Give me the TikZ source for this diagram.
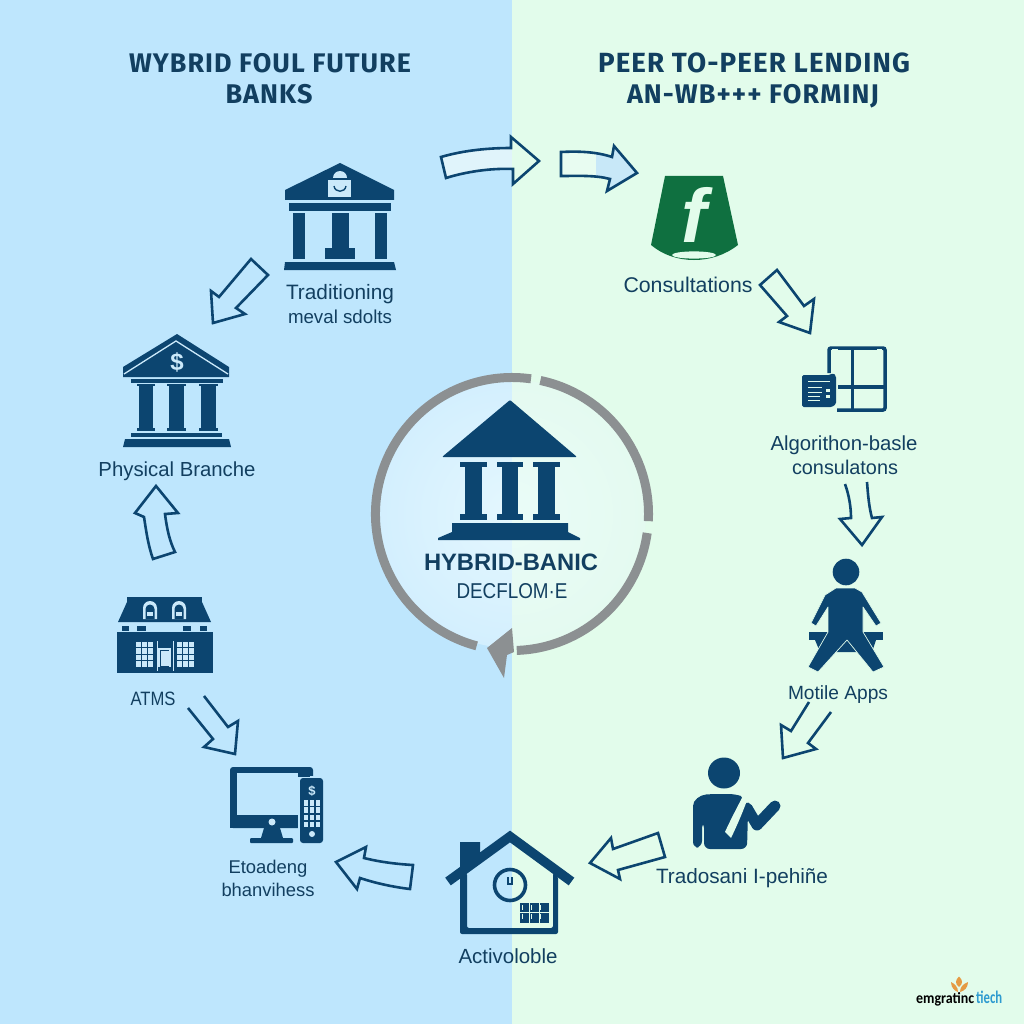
\documentclass[tikz,border=0pt]{standalone}
\usepackage{fontspec}
\usepackage{graphicx}
\setmainfont{Liberation Sans}
\newfontfamily\titlefont[LetterSpace=4]{Fira Sans}
\newfontfamily\logofont{Carlito}
\newfontfamily\ffont{Liberation Sans}
\definecolor{bgL}{HTML}{BEE6FD}
\definecolor{bgR}{HTML}{E2FCEB}
\definecolor{navy}{HTML}{0C4570}
\definecolor{ink}{HTML}{123F60}
\definecolor{ringc}{HTML}{8C9092}
\definecolor{leaf}{HTML}{0F7040}
\definecolor{ora}{HTML}{E59A43}
\definecolor{logob}{HTML}{2E9BD0}
\definecolor{E4F7FE}{HTML}{E4F7FE}
\definecolor{CFEDFD}{HTML}{D3EFFE}
\definecolor{EAFCF8}{HTML}{EAFCF8}
\definecolor{E4FAF0}{HTML}{E4FAF0}
\definecolor{E0F4FB}{HTML}{E0F4FB}
\definecolor{E8FCF1}{HTML}{E8FCF1}
\definecolor{C8E8F8}{HTML}{C8E8F8}
\definecolor{CBE9FA}{HTML}{CBE9FA}
\newcommand\fitw[2]{\resizebox{#1pt}{!}{#2}}
\newcommand\fitwh[3]{\resizebox{#1pt}{#2pt}{#3}}
\newcommand\ArrowA{(441,157) .. controls (465,150) and (490,148) .. (511,148) -- (511,137) -- (539,161) -- (513,184) -- (513,169) .. controls (490,168) and (465,172) .. (446,178) -- cycle}
\newcommand\ArrowB{(561,152) .. controls (580,151) and (597,152) .. (612,157) -- (614,146) -- (637,173) -- (607,191) -- (610,179) .. controls (595,175) and (578,176) .. (561,176) -- cycle}
\tikzset{
  lab/.style={anchor=base,inner sep=0pt,text=ink,font=\fontsize{20}{24}\selectfont},
  ttl/.style={anchor=base,inner sep=0pt,text=ink,font=\titlefont\bfseries\fontsize{26}{30}\selectfont},
  blockarrow/.style={draw=navy,line width=2.6pt,line join=miter,miter limit=6},
  ring/.style={draw=ringc,line width=9pt}
}
\begin{document}
\begin{tikzpicture}[x=1pt,y=-1pt]
\useasboundingbox (0,0) rectangle (1024,1024);
% backgrounds
\fill[bgL] (0,0) rectangle (512,1024);
\fill[bgR] (512,0) rectangle (1024,1024);
% ring interior
\begin{scope}
\clip (0,0) rectangle (512,1024);
\shade[inner color=E4F7FE,outer color=CFEDFD] (512,514) circle[radius=134];
\end{scope}
\begin{scope}
\clip (512,0) rectangle (1024,1024);
\shade[inner color=EAFCF8,outer color=E4FAF0] (512,514) circle[radius=134];
\end{scope}
% ring
\draw[ring] ([shift={(512,514)}]-78:136.5) arc[start angle=-78,end angle=3,radius=136.5];
\draw[ring] ([shift={(512,514)}]8:136.5) arc[start angle=8,end angle=88,radius=136.5];
\draw[ring] ([shift={(512,514)}]105:136.5) arc[start angle=105,end angle=278,radius=136.5];
\fill[ringc] (512,628) -- (487,648) -- (504,678) -- (507,655) -- (514,652) -- cycle;
% centre bank
\fill[navy,rounded corners=1pt] (510,400) -- (577,457) -- (442,457) -- cycle;
\foreach \xa/\xb in {465/482,502/518,538/555}{
  \fill[navy] (\xa,464) rectangle (\xb,518);
  \fill[navy] (\xa-5,462) rectangle (\xb+5,467);
  \fill[navy] (\xa-5,514) rectangle (\xb+5,520);
}
\fill[navy] (452,523) -- (568,523) -- (568,532) -- (580,538) -- (580,540) -- (438,540) -- (438,538) -- (452,532) -- cycle;
\node[anchor=base,inner sep=0pt,text=ink,font=\ffont\bfseries\fontsize{22}{26}\selectfont] (hub1) at (511,570) {\fitw{174}{HYBRID-BANIC}};
\node[lab] (hub2) at (512,598) {\fitwh{111}{15}{DECFLOM·E}};
% titles
\node[ttl] (tl1) at (270,73) {\fitw{282}{WYBRID FOUL FUTURE}};
\node[ttl] (tl2) at (269,104) {\fitw{87}{BANKS}};
\node[ttl] (tr1) at (754,73) {\fitw{312}{PEER TO-PEER LENDING}};
\node[ttl] (tr2) at (753,104) {\fitw{252}{AN-WB+++ FORMINJ}};
% arrows
\fill[E0F4FB] \ArrowA;
\begin{scope}\clip (512,0) rectangle (1024,1024); \fill[bgR] \ArrowA; \end{scope}
\draw[blockarrow] \ArrowA;
\fill[E8FCF1] \ArrowB;
\begin{scope}\clip (596,0) rectangle (1024,1024); \fill[C8E8F8] \ArrowB; \end{scope}
\draw[blockarrow] \ArrowB;
\draw[blockarrow] (251,259) -- (268,275) -- (236,308) -- (245,314) -- (213,323) -- (211,291) -- (219,297) -- cycle;
\draw[blockarrow] (156,486) -- (178,513) -- (165,514) .. controls (167,530) and (170,542) .. (175,552) -- (153,559) .. controls (148,545) and (146,530) .. (144,517) -- (135,513) -- cycle;
\draw[blockarrow] (204,696) -- (228,727) -- (238,721) -- (235,754) -- (204,747) -- (213,739) -- (188,708);
\draw[blockarrow] (413,865) -- (410,889) .. controls (393,887) and (375,883) .. (360,878) -- (357,889) -- (336,862) -- (366,847) -- (364,858) .. controls (380,862) and (396,864) .. (413,865) -- cycle;
\draw[blockarrow] (658,833) -- (665,857) -- (618,870) -- (620,879) -- (590,863) -- (611,838) -- (613,849) -- cycle;
\draw[blockarrow] (777,270) -- (804,306) -- (814,299) -- (810,333) -- (779,322) -- (787,316) -- (760,285) -- cycle;
\draw[blockarrow] (845,484) .. controls (849,495) and (851,507) .. (851,518) -- (840,519) -- (862,545) -- (882,517) -- (872,518) .. controls (869,507) and (868,495) .. (867,482);
\draw[blockarrow] (809,702) -- (791,731) -- (781,725) -- (783,758) -- (816,749) -- (808,743) -- (831,712);
% traditional bank
\fill[navy] (340,163) -- (394,190) -- (394,200) -- (285,200) -- (285,190) -- cycle;
\fill[CBE9FA] (328,180) rectangle (351,197);
\fill[CBE9FA] (333,178) arc[start angle=180,end angle=360,radius=7];
\draw[navy,line width=1.4pt] (334,186) .. controls (335,193) and (345,193) .. (346,186);
\fill[navy] (289,203) rectangle (391,211);
\fill[navy] (293,213) rectangle (305,259);
\fill[navy] (375,213) rectangle (387,259);
\fill[navy] (332,213) rectangle (349,248);
\fill[navy] (325,248) rectangle (355,259);
\fill[navy] (285,262) -- (394,262) -- (396,270) -- (284,270) -- cycle;
\node[lab] (l1a) at (340,299) {\fitw{108}{Traditioning}};
\node[lab] (l1b) at (340,323) {\fitw{104}{meval sdolts}};
% physical branch bank
\fill[navy] (177,334) -- (229,367) -- (229,377) -- (123,377) -- (123,367) -- cycle;
\draw[CBE9FA,line width=1.3pt] (124,374) -- (176,341) -- (228,374);
\node[anchor=center,inner sep=0pt,text=CBE9FA,font=\ffont\bfseries\fontsize{24}{26}\selectfont] (dollar1) at (177,362) {\$};
\fill[navy] (131,379) rectangle (223,383);
\foreach \xa/\xb in {139/153,169/184,201/216}{
  \fill[navy] (\xa,386) rectangle (\xb,428);
  \fill[navy] (\xa-2,384) rectangle (\xb+2,386);
  \fill[navy] (\xa-2,428) rectangle (\xb+2,431);
}
\fill[navy] (131,433) rectangle (222,437);
\fill[navy] (125,439) -- (229,439) -- (231,447) -- (123,447) -- cycle;
\node[lab] (l2) at (177,476) {\fitw{157}{Physical Branche}};
% ATM building
\fill[navy] (127,597) rectangle (202,602);
\fill[navy] (127,602) -- (202,602) -- (211,622) -- (118,622) -- cycle;
\foreach \x in {150,179}{
  \fill[CBE9FA] (\x-7,619) -- (\x-7,608) arc[start angle=180,end angle=360,radius=7] -- (\x+7,619) -- cycle;
  \fill[navy] (\x-4.5,619) -- (\x-4.5,609) arc[start angle=180,end angle=360,radius=4.5] -- (\x+4.5,619) -- cycle;
  \fill[CBE9FA] (\x-3,612) rectangle (\x+3,616);
}
\foreach \xa/\xb in {122/129,137/146,183/191,200/207}{\fill[navy] (\xa,626) rectangle (\xb,631);}
\fill[navy] (117,632) rectangle (213,673);
\foreach \xs in {136,177}{
  \foreach \i in {0,1,2}{\foreach \j in {0,1,2,3}{
    \fill[CBE9FA] (\xs+\i*6.1,641.5+\j*6.6) rectangle +(5,5.5);
  }}
}
\draw[CBE9FA,line width=0.8pt] (157,641) -- (157,671);
\draw[CBE9FA,line width=0.8pt] (173,641) -- (173,671);
\fill[CBE9FA] (158,648) rectangle (171,667);
\fill[navy] (160,650) rectangle (169,667);
\fill[CBE9FA] (160.5,650.5) rectangle (168.5,666);
\node[lab] (l3) at (153,705) {\fitwh{45}{13.5}{ATMS}};
% monitor and phone
\fill[navy,rounded corners=3pt] (230,767) rectangle (313,828);
\fill[bgL] (237,773) rectangle (298,815);
\fill[bgL] (298,776) rectangle (320,830);
\fill[navy] (298,773) rectangle (310,777);
\fill[navy] (230,815) rectangle (298,828);
\fill[CBE9FA] (272,822) circle[radius=3.5];
\fill[navy] (264,828) -- (280,828) -- (283,838) -- (261,838) -- cycle;
\fill[navy,rounded corners=1pt] (250,838) rectangle (293,843);
\fill[navy,rounded corners=3pt] (300,778) rectangle (323,843);
\node[anchor=center,inner sep=0pt,text=CBE9FA,font=\ffont\bfseries\fontsize{13}{14}\selectfont] (dollar2) at (312,791) {\$};
\foreach \i in {0,1,2}{\foreach \j in {0,1,2,3}{
  \fill[CBE9FA] (303.5+\i*6,800+\j*7.3) rectangle +(4.6,5.5);
}}
\fill[CBE9FA] (312,834) circle[radius=3];
\node[lab] (l4a) at (268,873) {\fitw{79}{Etoadeng}};
\node[lab] (l4b) at (268,896) {\fitw{93}{bhanvihess}};
% house
\fill[navy] (460,842) -- (480,842) -- (480,858) -- (460,872) -- cycle;
\draw[navy,line width=9.5pt,line cap=butt,line join=miter] (448,881.5) -- (510,836.5) -- (571.5,881.5);
\fill[navy,rounded corners=2pt] (460,876) -- (467,873) -- (467,928) -- (553,928) -- (553,873) -- (558,876) -- (558,934) -- (460,934) -- cycle;
\draw[navy,line width=3.6pt] (510,885) circle[radius=15.5];
\draw[navy,line width=1.4pt] (508,877) -- (508,884) -- (512,884) -- (512,877);
\fill[navy] (520,903) rectangle (549,923);
\foreach \i in {0,1,2}{\foreach \j in {0,1}{
  \draw[bgR,line width=0.5pt] (522+\i*9,905+\j*9) -- +(0,5);
}}
\draw[bgR,line width=1pt] (520,912.5) -- (549,912.5);
\draw[bgR,line width=1pt] (529,903) -- (529,923);
\draw[bgR,line width=1pt] (539,903) -- (539,923);
\node[lab] (l5) at (508,963) {\fitw{99}{Activoloble}};
% teacher
\fill[navy] (724,773) ellipse[x radius=16,y radius=15.5];
\fill[navy,rounded corners=6pt] (693,848) -- (693,812) .. controls (693,800) and (700,795) .. (712,794) -- (735,794) .. controls (741,796) and (745,802) .. (748,812) -- (747,849) -- (704,849) -- (704,822) -- (702,822) -- (702,847) -- cycle;
\draw[navy,line width=11pt,line cap=round,line join=round] (747,808) -- (757,825) -- (775,806);
\fill[bgR] (756.5,768) .. controls (752,790) and (742,815) .. (731,838) -- (725,832) .. controls (735,810) and (748,788) .. (756.5,768) -- cycle;
\draw[bgR,line width=0.9pt] (726,832) .. controls (736,810) and (748,790) .. (756.5,768);
\node[lab] (l6) at (742,883) {\fitw{172}{Tradosani I-pehiñe}};
% seated person
\fill[navy] (846,572) circle[radius=13.3];
\fill[navy] (809,632) rectangle (883,640);
\fill[navy] (815,640) -- (876,640) -- (872,652) -- (820,652) -- cycle;
\fill[navy,draw=bgR,line width=0.7pt,line join=round] (836,588) -- (855,588) -- (862,592) -- (881,623) -- (876,626) -- (863,607) -- (863,632) -- (884,667) -- (873,672) -- (847,640) -- (818,672) -- (808,667) -- (828,632) -- (828,607) -- (816,626) -- (811,623) -- (825,595) -- cycle;
\node[lab] (l7) at (838,699) {\fitw{100}{Motile Apps}};
% document icon
\draw[navy,line width=3.5pt,rounded corners=2pt] (829,373) -- (829,348) -- (885,348) -- (885,410) -- (837,410);
\fill[navy] (850.5,348) rectangle (854,410);
\fill[navy] (838,385) rectangle (885,389);
\fill[bgR] (832,349) rectangle (838,351);
\fill[bgR] (877,349) rectangle (882,351);
\fill[navy,rounded corners=1.5pt] (802,375) -- (830,375) -- (833,373) -- (836,376) -- (836,404) -- (832,407) -- (802,407) -- cycle;
\foreach \yy/\xx in {381/830,387/822,392/822,396/820,400/820}{
  \draw[bgR,line width=1pt] (808,\yy) -- (\xx,\yy);
}
\fill[bgR] (826,389) rectangle (830,392);
\fill[bgR] (826,395) rectangle (830,398);
\node[lab] (l8a) at (844,450) {\fitw{147}{Algorithon-basle}};
\node[lab] (l8b) at (845,474) {\fitw{106}{consulatons}};
% green icon
\fill[leaf] (665,176) -- (723,176) -- (738,245) .. controls (725,255) and (710,260) .. (694,260) .. controls (678,260) and (663,255) .. (651,245) -- cycle;
\fill[bgR] (694,255) ellipse[x radius=22,y radius=3.6];
\node[anchor=base,inner sep=0pt,text=bgR,font=\ffont\bfseries\itshape\fontsize{76}{80}\selectfont] (fglyph) at (694,243) {f};
\node[lab] (l9) at (688,292) {\fitw{129}{Consultations}};
% logo
\fill[ora] (959,976.5) .. controls (955,980) and (955,984) .. (959,987) .. controls (963,984) and (963,980) .. (959,976.5) -- cycle;
\fill[ora] (951,982) .. controls (951,988) and (955,991) .. (958,992) .. controls (958,987) and (955,984) .. (951,982) -- cycle;
\fill[ora] (968,982) .. controls (968,988) and (964,991) .. (960,992) .. controls (960,987) and (963,984) .. (968,982) -- cycle;
\node[anchor=base west,inner sep=0pt,text=black,font=\logofont\bfseries\fontsize{15}{17}\selectfont] (logo1) at (916,1003) {\fitwh{58}{11}{emgratinc}};
\node[anchor=base west,inner sep=0pt,text=logob,font=\logofont\bfseries\fontsize{15}{17}\selectfont] (logo2) at (976,1003) {\fitwh{26}{12.5}{tiech}};
\end{tikzpicture}
\end{document}
